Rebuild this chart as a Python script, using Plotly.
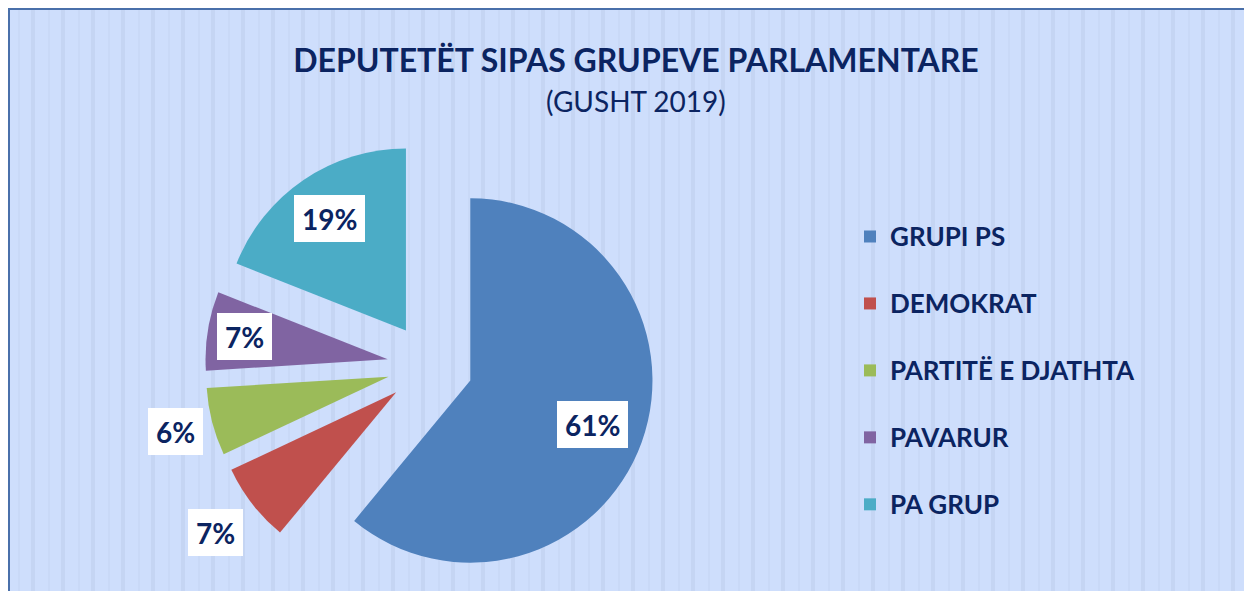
import math
import plotly.graph_objects as go

# ---- data ----
labels = ["GRUPI PS", "DEMOKRAT", "PARTITË E DJATHTA", "PAVARUR", "PA GRUP"]
values = [61, 7, 6, 7, 19]
title_text = "DEPUTETËT SIPAS GRUPEVE PARLAMENTARE"
subtitle_text = "(GUSHT 2019)"

# ---- styles ----
colors = ["#4F81BD", "#C0504D", "#9BBB59", "#8064A2", "#4BACC6"]
label_dist = [0.95, 1.49, 1.44, 1.03, 0.98]   # label distance from pie centre, in radii
NAVY = "#0B2461"
FONT = "Lato"
W, H = 1244, 591
PULL = 0.235
dom_x = [(430 - 225) / W, (430 + 225) / W]
dom_y = [0.0, 450 / H]

def px(x):
    return x / W

def py(y):
    return 1 - y / H

fig = go.Figure()
fig.add_trace(go.Pie(
    labels=["<span style='font-size:26px'>%s</span><br> " % l for l in labels],
    values=values,
    sort=False,
    direction="clockwise",
    rotation=0,
    pull=[PULL] * len(values),
    marker=dict(colors=colors, line=dict(width=0)),
    textinfo="none",
    hoverinfo="percent",
    domain=dict(x=dom_x, y=dom_y),
    showlegend=True,
))

# percentage labels, placed from the slice angles
total = sum(values)
cx = W * (dom_x[0] + dom_x[1]) / 2
cy = H * (1 - (dom_y[0] + dom_y[1]) / 2)
r = min(W * (dom_x[1] - dom_x[0]), H * (dom_y[1] - dom_y[0])) / 2 / (1 + PULL)
annotations = []
cum = 0
for v, f in zip(values, label_dist):
    mid = (cum + v / 2) / total * 2 * math.pi
    cum += v
    x = cx + f * r * math.sin(mid)
    y = cy - f * r * math.cos(mid)
    annotations.append(dict(
        x=px(x), y=py(y), xref="paper", yref="paper",
        xanchor="center", yanchor="middle", showarrow=False,
        text="<b>%d%%</b>" % round(v / total * 100),
        font=dict(family=FONT, size=28, color=NAVY),
        bgcolor="white", borderpad=8, borderwidth=0, height=31,
    ))

annotations.append(dict(
    x=px(636), y=py(101), xref="paper", yref="paper",
    xanchor="center", yanchor="middle", showarrow=False,
    text=subtitle_text,
    font=dict(family=FONT, size=28, color=NAVY),
))

# background panel with vertical stripes
shapes = [dict(type="rect", xref="paper", yref="paper", layer="below",
               x0=px(10), x1=1.02, y0=-0.02, y1=py(10),
               fillcolor="rgb(206,222,252)", line=dict(width=0))]
k = 0
while 18 + 30 * k < W:
    xw = 31 + 30 * k
    xt = 18 + 30 * k
    shapes.append(dict(type="rect", xref="paper", yref="paper", layer="below",
                       x0=px(xw), x1=px(xw + 4), y0=-0.02, y1=py(10),
                       fillcolor="rgb(197,213,243)", line=dict(width=0)))
    shapes.append(dict(type="rect", xref="paper", yref="paper", layer="below",
                       x0=px(xt), x1=px(xt + 2), y0=-0.02, y1=py(10),
                       fillcolor="rgb(201,217,247)", line=dict(width=0)))
    k += 1
shapes.append(dict(type="rect", xref="paper", yref="paper", layer="below",
                   x0=px(9), x1=1.05, y0=-0.05, y1=py(9),
                   fillcolor="rgba(0,0,0,0)", line=dict(color="#4A70AA", width=2)))

fig.update_layout(
    width=W, height=H,
    margin=dict(l=0, r=0, t=0, b=0),
    paper_bgcolor="white",
    plot_bgcolor="rgba(0,0,0,0)",
    title=dict(text="<b>%s</b>" % title_text, x=px(636), xanchor="center",
               y=py(61), yanchor="middle", yref="container",
               font=dict(family=FONT, size=32, color=NAVY)),
    legend=dict(x=px(850), y=py(214), xanchor="left", yanchor="top",
                valign="top", bgcolor="rgba(0,0,0,0)",
                font=dict(family=FONT, size=24.6, color=NAVY, weight="bold")),
    annotations=annotations,
    shapes=shapes,
)

fig.write_html("out.html", config={"displayModeBar": False},
               post_script="document.body.style.margin='0';document.body.style.overflow='hidden';")
